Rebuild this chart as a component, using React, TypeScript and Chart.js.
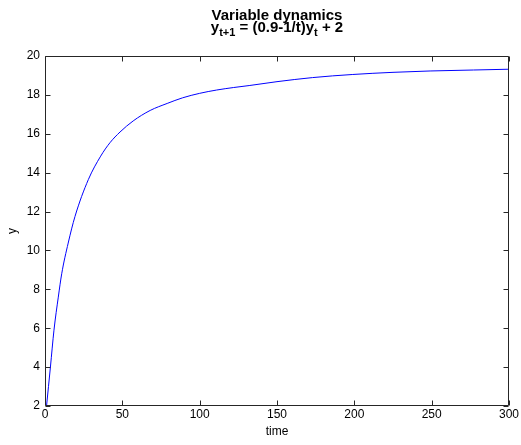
import React, { useEffect, useRef } from "react";
import { Chart, registerables } from "chart.js";

Chart.register(...registerables);

const TITLE = "Variable dynamics";
const SUBTITLE_PARTS = [
  { text: "y", sub: false },
  { text: "t+1", sub: true },
  { text: " = (0.9-1/t)y", sub: false },
  { text: "t", sub: true },
  { text: " + 2", sub: false },
];
const X_LABEL = "time";
const Y_LABEL = "y";

const timeSteps = [1, 3.5, 5.8, 8.6, 10.8, 15, 19.4, 28, 36, 42, 48.5, 57, 68, 79, 89, 100, 111, 122, 132, 150, 173, 199, 225, 249, 277, 300];
const yValues = [2.0, 4.0, 5.9, 7.6, 8.8, 10.38, 11.75, 13.64, 14.85, 15.54, 16.09, 16.66, 17.2, 17.56, 17.85, 18.08, 18.25, 18.38, 18.48, 18.68, 18.89, 19.05, 19.16, 19.23, 19.28, 19.32];

const xTicks = [0, 50, 100, 150, 200, 250, 300];
const yTicks = [2, 4, 6, 8, 10, 12, 14, 16, 18, 20];

const FONT = '"Liberation Sans", Arial, Helvetica, sans-serif';

const framePlugin = {
  id: "frame",
  afterDraw(chart: any) {
    const { ctx, chartArea: a, scales } = chart;
    ctx.save();
    ctx.strokeStyle = "#262626";
    ctx.lineWidth = 1;
    const L = Math.round(a.left) + 0.5;
    const R = Math.round(a.right) - 0.5;
    const T = Math.round(a.top) + 0.5;
    const B = Math.round(a.bottom) - 0.5;
    ctx.beginPath();
    ctx.rect(L, T, R - L, B - T);
    const tl = 5;
    for (const v of xTicks) {
      const px = Math.round(scales.x.getPixelForValue(v)) + 0.5;
      ctx.moveTo(px, B);
      ctx.lineTo(px, B - tl);
      ctx.moveTo(px, T);
      ctx.lineTo(px, T + tl);
    }
    for (const v of yTicks) {
      const py = Math.round(scales.y.getPixelForValue(v)) + 0.5;
      ctx.moveTo(L, py);
      ctx.lineTo(L + tl, py);
      ctx.moveTo(R, py);
      ctx.lineTo(R - tl, py);
    }
    ctx.stroke();

    // Title
    const cx = (a.left + a.right) / 2;
    ctx.fillStyle = "#000";
    ctx.textBaseline = "alphabetic";
    ctx.textAlign = "center";
    ctx.font = `bold 15px ${FONT}`;
    ctx.fillText(TITLE, cx, 20);

    const mainFont = `bold 15px ${FONT}`;
    const subFont = `bold 11px ${FONT}`;
    let total = 0;
    const widths = SUBTITLE_PARTS.map((p) => {
      ctx.font = p.sub ? subFont : mainFont;
      const w = ctx.measureText(p.text).width;
      total += w;
      return w;
    });
    let x = cx - total / 2;
    ctx.textAlign = "left";
    SUBTITLE_PARTS.forEach((p, i) => {
      ctx.font = p.sub ? subFont : mainFont;
      ctx.fillText(p.text, x, p.sub ? 36 : 32);
      x += widths[i];
    });
    ctx.restore();
  },
};

export default function App() {
  const ref = useRef<HTMLCanvasElement | null>(null);
  useEffect(() => {
    if (!ref.current) return;
    Chart.defaults.font.family = FONT;
    const chart = new Chart(ref.current, {
      type: "line",
      data: {
        datasets: [
          {
            data: timeSteps.map((t, i) => ({ x: t, y: yValues[i] })),
            borderColor: "#0000ff",
            borderWidth: 1,
            pointRadius: 0,
            cubicInterpolationMode: "monotone",
            fill: false,
          },
        ],
      },
      options: {
        responsive: false,
        animation: false,
        layout: { padding: { top: 56, right: 12, left: 0, bottom: 0 } },
        plugins: { legend: { display: false }, tooltip: { enabled: false }, title: { display: false } },
        scales: {
          x: {
            type: "linear",
            min: 0,
            max: 300,
            afterBuildTicks: (s: any) => {
              s.ticks = xTicks.map((v) => ({ value: v }));
            },
            grid: { display: false, drawTicks: false },
            border: { display: false },
            ticks: { padding: 1, color: "#000", font: { size: 12 }, maxRotation: 0, autoSkip: false },
            title: { display: true, text: X_LABEL, color: "#000", font: { size: 12 }, padding: { top: 0, bottom: 6 } },
            afterFit: (s: any) => {
              s.height = 39;
            },
          },
          y: {
            type: "linear",
            min: 2,
            max: 20,
            afterBuildTicks: (s: any) => {
              s.ticks = yTicks.map((v) => ({ value: v }));
            },
            grid: { display: false, drawTicks: false },
            border: { display: false },
            ticks: { padding: 5, color: "#000", font: { size: 12 }, autoSkip: false },
            title: { display: true, text: Y_LABEL, color: "#000", font: { size: 12 }, padding: { top: 5, bottom: 0 } },
            afterFit: (s: any) => {
              s.width = 45;
            },
          },
        },
      },
      plugins: [framePlugin],
    });
    return () => chart.destroy();
  }, []);
  return (
    <div style={{ position: "absolute", left: 0, top: 0, width: 521, height: 445, background: "#fff" }}>
      <canvas ref={ref} width={521} height={445} style={{ width: 521, height: 445 }} />
    </div>
  );
}
